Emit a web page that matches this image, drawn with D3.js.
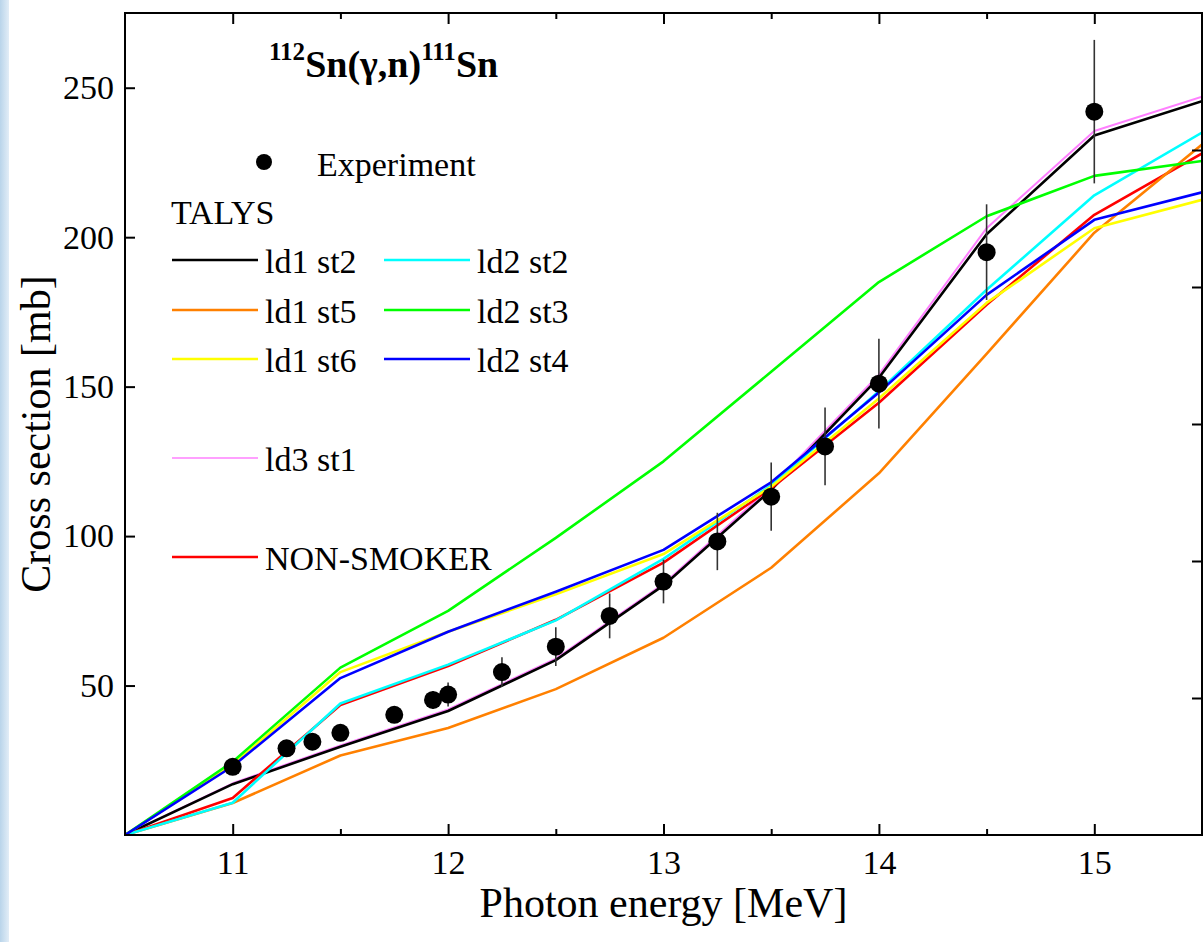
<!DOCTYPE html>
<html>
<head>
<meta charset="utf-8">
<script src="https://cdn.jsdelivr.net/npm/d3@7"></script>
<style>
  body { margin: 0; background: #fff; }
  text { font-family: "Liberation Serif", "Times New Roman", serif; fill: #000; }
</style>
</head>
<body>
<div id="wrapper"></div>
<script>
// theory curves, sampled every 0.5 MeV
const energies = [10.5, 11, 11.5, 12, 12.5, 13, 13.5, 14, 14.5, 15, 15.5];
const ld1st2 = [0, 17, 29.5, 41.5, 58.5, 83.5, 115.5, 153, 201, 234, 245.5];
const ld1st5 = [0, 10.7, 26.6, 35.8, 48.8, 66, 89.4, 121, 161, 201.5, 231];
const ld1st6 = [0, 23.5, 54.5, 68, 80.5, 94, 116.5, 146, 178, 203, 212.5];
const ld2st2 = [0, 10.8, 44, 57, 71.8, 92.4, 117, 148.5, 182.4, 214, 235];
const ld2st3 = [0, 24.5, 56, 75, 99.4, 125, 155, 185, 207, 220.5, 225.5];
const ld2st4 = [0, 23, 52.5, 68, 81.4, 95.4, 118, 148, 180.7, 205.8, 215];
const ld3st1 = [0, 17.3, 30, 42, 59, 84, 116.5, 154, 203, 235.5, 247];
const nonSmoker = [0, 12.4, 43.5, 56.5, 72, 91.1, 116, 144.6, 177.4, 207.5, 228];

// experiment
const expEnergy = [11, 11.25, 11.37, 11.5, 11.75, 11.93, 12, 12.25, 12.5, 12.75, 13, 13.25, 13.5, 13.75, 14, 14.5, 15];
const expValue  = [22.8, 29, 31.2, 34.2, 40.2, 45.2, 47, 54.5, 63, 73.3, 84.8, 98.2, 113.2, 130, 151, 195, 242];
const expError  = [2, 2, 2, 2, 2, 3, 4, 5, 6.5, 7.5, 7.3, 9.6, 11.4, 13, 15, 16, 24];

const seriesNames  = ["ld1 st2", "ld1 st5", "ld1 st6", "ld2 st2", "ld2 st3", "ld2 st4", "ld3 st1", "NON-SMOKER"];
const seriesColors = ["#000000", "#ff8000", "#ffff00", "#00ffff", "#00ff00", "#0000ff", "#ff80ff", "#ff0000"];
const seriesValues = [ld1st2, ld1st5, ld1st6, ld2st2, ld2st3, ld2st4, ld3st1, nonSmoker];

const xMajor = [11, 12, 13, 14, 15];
const xMinor = [11.5, 12.5, 13.5, 14.5];
const yTicks = [50, 100, 150, 200, 250];

var dimension = {
  width: 1204,
  height: 942,
  margin: { top: 13, right: 2, bottom: 107, left: 125 }
};
dimension.boundedWidth = dimension.width - dimension.margin.left - dimension.margin.right;
dimension.boundedHeight = dimension.height - dimension.margin.top - dimension.margin.bottom;

const svg = d3.select("#wrapper")
  .append("svg")
  .attr("width", dimension.width)
  .attr("height", dimension.height);

// light blue strip at the left edge
const grad = svg.append("defs").append("linearGradient")
  .attr("id", "edge").attr("x1", 0).attr("x2", 1);
grad.append("stop").attr("offset", 0).attr("stop-color", "#b9d4ea");
grad.append("stop").attr("offset", 1).attr("stop-color", "#e2edf7");
svg.append("rect").attr("x", 0).attr("y", 0).attr("width", 9).attr("height", dimension.height)
  .attr("fill", "url(#edge)");

svg.append("clipPath").attr("id", "plot")
  .append("rect").attr("width", dimension.boundedWidth).attr("height", dimension.boundedHeight);

const g = svg.append("g")
  .attr("transform", `translate(${dimension.margin.left},${dimension.margin.top})`);

const x = d3.scaleLinear().domain([10.5, 15.5]).range([0, dimension.boundedWidth]);
const y = d3.scaleLinear().domain([0, 275]).range([dimension.boundedHeight, 0]);
const yRight = d3.scaleLinear().domain([0, 300]).range([dimension.boundedHeight, 0]);

// curves
const drawOrder = [6, 0, 7, 1, 3, 2, 4, 5];
const line = d3.line().x(d => x(d[0])).y(d => y(d[1]));
const curves = g.append("g").attr("clip-path", "url(#plot)");
drawOrder.forEach(i => {
  curves.append("path")
    .datum(energies.map((e, k) => [e, seriesValues[i][k]]))
    .attr("fill", "none")
    .attr("stroke", seriesColors[i])
    .attr("stroke-width", i === 6 ? 2 : 2.6)
    .attr("stroke-linejoin", "round")
    .attr("d", line);
});

// experimental points
const expData = expEnergy.map((e, i) => ({ e: e, v: expValue[i], err: expError[i] }));
g.selectAll("line.err")
  .data(expData)
  .enter()
  .append("line")
  .attr("class", "err")
  .attr("x1", d => x(d.e)).attr("x2", d => x(d.e))
  .attr("y1", d => y(d.v - d.err)).attr("y2", d => y(d.v + d.err))
  .attr("stroke", "#333")
  .attr("stroke-width", 1.6);
g.selectAll("circle.exp")
  .data(expData)
  .enter()
  .append("circle")
  .attr("class", "exp")
  .attr("cx", d => x(d.e))
  .attr("cy", d => y(d.v))
  .attr("r", 9)
  .attr("fill", "#000");

// axes (ticks inside the frame)
function styleAxis(sel, fontSize) {
  sel.select(".domain").remove();
  sel.selectAll(".tick line").attr("stroke", "#000").attr("stroke-width", 2);
  sel.selectAll(".tick text").style("font-size", fontSize + "px")
    .style("font-family", '"Liberation Serif", serif').attr("fill", "#000");
}

g.append("g")
  .attr("transform", `translate(0,${dimension.boundedHeight})`)
  .call(d3.axisBottom(x).tickValues(xMajor).tickFormat(d3.format("d")).tickSize(-11).tickPadding(15))
  .call(s => styleAxis(s, 34));
g.append("g")
  .attr("transform", `translate(0,${dimension.boundedHeight})`)
  .call(d3.axisBottom(x).tickValues(xMinor).tickFormat("").tickSize(-6))
  .call(s => styleAxis(s, 34));
g.append("g")
  .call(d3.axisTop(x).tickValues(xMajor).tickFormat("").tickSize(-11))
  .call(s => styleAxis(s, 34));
g.append("g")
  .call(d3.axisTop(x).tickValues(xMinor).tickFormat("").tickSize(-6))
  .call(s => styleAxis(s, 34));
g.append("g")
  .call(d3.axisLeft(y).tickValues(yTicks).tickSize(-10).tickPadding(11))
  .call(s => styleAxis(s, 34));
g.append("g")
  .attr("transform", `translate(${dimension.boundedWidth},0)`)
  .call(d3.axisRight(yRight).tickValues(yTicks).tickFormat("").tickSize(-10))
  .call(s => styleAxis(s, 34));

g.append("rect")
  .attr("width", dimension.boundedWidth)
  .attr("height", dimension.boundedHeight)
  .attr("fill", "none")
  .attr("stroke", "#000")
  .attr("stroke-width", 2);

// axis titles
svg.append("text")
  .attr("x", dimension.margin.left + dimension.boundedWidth / 2)
  .attr("y", 917)
  .attr("text-anchor", "middle")
  .style("font-size", "42px")
  .text("Photon energy [MeV]");
svg.append("text")
  .attr("transform", "translate(50,434) rotate(-90)")
  .attr("text-anchor", "middle")
  .style("font-size", "42px")
  .text("Cross section [mb]");

// reaction label
const title = svg.append("text")
  .attr("x", 269).attr("y", 77)
  .style("font-weight", "bold")
  .style("font-size", "38px");
title.append("tspan").attr("dy", -17).style("font-size", "25px").text("112");
title.append("tspan").attr("dy", 17).text("Sn(γ,n)");
title.append("tspan").attr("dy", -17).style("font-size", "25px").text("111");
title.append("tspan").attr("dy", 17).text("Sn");

// legend
const legend = svg.append("g");
legend.append("circle").attr("cx", 264).attr("cy", 162).attr("r", 8).attr("fill", "#000");
legend.append("text").attr("x", 317).attr("y", 176).style("font-size", "34px").text("Experiment");
legend.append("text").attr("x", 171).attr("y", 224).style("font-size", "34px").text("TALYS");

const legendPos = [
  [172, 260], [172, 310], [172, 359],
  [384, 260], [384, 310], [384, 359],
  [172, 458], [172, 557]
];
seriesNames.forEach((name, i) => {
  const [lx, ly] = legendPos[i];
  legend.append("line")
    .attr("x1", lx).attr("x2", lx + 86)
    .attr("y1", ly).attr("y2", ly)
    .attr("stroke", seriesColors[i])
    .attr("stroke-width", i === 6 ? 1.6 : 2.4);
  legend.append("text")
    .attr("x", lx + 93).attr("y", ly + 13)
    .style("font-size", "34px")
    .text(name);
});
</script>
</body>
</html>
